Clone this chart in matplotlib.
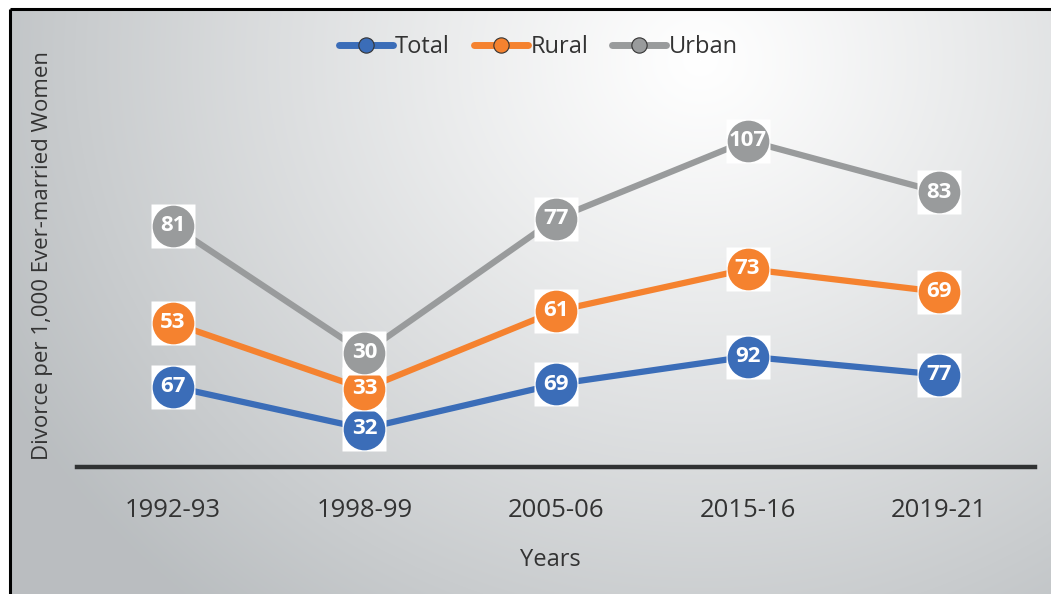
import numpy as np
import matplotlib
matplotlib.use("Agg")
import matplotlib.pyplot as plt
from matplotlib.lines import Line2D

plt.rcParams['font.family'] = ['Open Sans', 'DejaVu Sans']

years = ["1992-93", "1998-99", "2005-06", "2015-16", "2019-21"]
total = [67, 32, 69, 92, 77]
rural = [53, 33, 61, 73, 69]
urban = [81, 30, 77, 107, 83]

names = ["Total", "Rural", "Urban"]
colors = ["#3B6DB8", "#F5822F", "#999B9C"]

# excel stacked line: each series drawn on top of the previous one
values = np.array([total, rural, urban])
stacked = np.cumsum(values, axis=0)

W, H = 1051, 594
fig = plt.figure(figsize=(W / 100, H / 100), dpi=100)

# background gradient + frame
bg = fig.add_axes([0, 0, 1, 1], zorder=0)
bg.set_xlim(0, W)
bg.set_ylim(H, 0)
bg.axis("off")
yy, xx = np.mgrid[9:H, 10:W]
d = np.sqrt((xx - 700) ** 2 + ((yy - 60) * 1.1) ** 2)
t = np.clip(d / 780, 0, 1) ** 1.1
c0 = np.array([1.0, 1.0, 1.0])
c1 = np.array([0.73, 0.745, 0.755])
img = c0[None, None, :] * (1 - t[..., None]) + c1[None, None, :] * t[..., None]
bg.imshow(img, extent=[10, W, H, 9], aspect="auto")
bg.plot([10, 10], [H, 9], color="black", lw=2.2, solid_capstyle="butt")
bg.plot([10, W], [9, 9], color="black", lw=2.2, solid_capstyle="butt")

ax = fig.add_axes([77 / W, (H - 467) / H, (1035 - 77) / W, (467 - 107) / H], zorder=1)
ax.patch.set_alpha(0)
x = np.arange(len(years))

for i in range(3):
    ax.plot(x, stacked[i], color=colors[i], lw=4.5, zorder=2, solid_capstyle="round")
for i in range(3):
    ax.plot(x, stacked[i], ls="none", marker="s", ms=31, mfc="white", mec="none", zorder=3 + 2 * i)
    ax.plot(x, stacked[i], ls="none", marker="o", ms=30, mfc=colors[i], mec="none", zorder=4 + 2 * i)
    for xi, yi, v in zip(x, stacked[i], values[i]):
        ax.text(xi, yi, str(v), ha="center", va="center", color="white",
                fontsize=16, fontweight="bold", zorder=10)

ax.set_xlim(-0.5, 4.5)
ax.set_ylim(0, 300)
ax.set_xticks(x)
ax.set_xticklabels(years, fontsize=18.5, color="#333333")
ax.tick_params(axis="x", length=0, pad=22)
ax.set_yticks([])
for s in ["top", "right", "left"]:
    ax.spines[s].set_visible(False)
ax.spines["bottom"].set_color("#303233")
ax.spines["bottom"].set_linewidth(3.2)

fig.text(550 / W, 1 - 560 / H, "Years", ha="center", va="center", fontsize=17, color="#333333")
fig.text(43 / W, 1 - 256 / H, "Divorce per 1,000 Ever-married Women", rotation=90,
         ha="center", va="center", fontsize=16, color="#333333")

handles = [Line2D([0], [0], color=c, lw=5, marker="o", ms=11, mfc=c, mec="#333333", mew=0.8,
                  solid_capstyle="round") for c in colors]
fig.legend(handles, names, loc="center", bbox_to_anchor=(538 / W, 1 - 47 / H), ncol=3,
           frameon=False, fontsize=17, handlelength=2.3, handletextpad=0.1, columnspacing=1.0,
           labelcolor="#333333")

fig.savefig("out.png", dpi=100)
